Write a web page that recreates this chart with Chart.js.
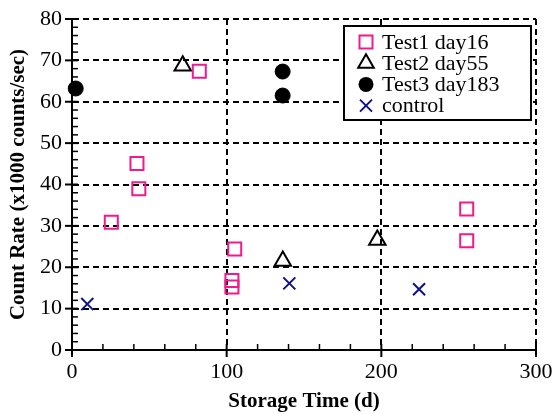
<!DOCTYPE html>
<html><head><meta charset="utf-8">
<script src="https://cdn.jsdelivr.net/npm/chart.js@4"></script>
<style>html,body{margin:0;padding:0;background:#fff;}</style>
</head><body>
<canvas id="c" width="553" height="414"></canvas>
<script>
// ---- data ----
const test1X = [25.4, 42.0, 43.2, 82.3, 105.2, 103.4, 103.4, 255.2, 255.2];
const test1Y = [30.9, 45.1, 39.0, 67.4, 24.4, 16.8, 15.2, 34.1, 26.4];
const test2X = [71.6, 136.3, 197.4];
const test2Y = [68.7, 21.5, 26.6];
const test3X = [2.4, 136.2, 136.2];
const test3Y = [63.2, 67.3, 61.5];
const controlX = [9.9, 140.5, 224.4];
const controlY = [11.1, 16.1, 14.7];
const seriesLabels = ['Test1 day16', 'Test2 day55', 'Test3 day183', 'control'];
const xTicks = [0, 100, 200, 300];
const yTicks = [0, 10, 20, 30, 40, 50, 60, 70, 80];
const xTitle = 'Storage Time (d)';
const yTitle = 'Count Rate (x1000 counts/sec)';

const FONT = "'Liberation Serif', 'Times New Roman', Times, serif";
const PINK = '#f01a8c';
const NAVY = '#10108c';

function pts(xs, ys) { return xs.map((x, i) => ({x: x, y: ys[i]})); }

const minorTicks = {
  id: 'minorTicks',
  beforeDatasetsDraw(chart) {
    const ctx = chart.ctx, xs = chart.scales.x, ys = chart.scales.y;
    const ca = chart.chartArea;
    ctx.save();
    ctx.strokeStyle = '#000';
    for (let v = xs.min; v <= xs.max + 1e-9; v += 20) {
      const px = xs.getPixelForValue(v);
      const major = xTicks.includes(v);
      ctx.lineWidth = major ? 2 : 1.5;
      ctx.beginPath();
      ctx.moveTo(px, ca.bottom + (major ? 7 : 0));
      ctx.lineTo(px, ca.bottom - 6);
      ctx.stroke();
    }
    for (let v = ys.min; v <= ys.max + 1e-9; v += 2) {
      const py = ys.getPixelForValue(v);
      const major = yTicks.includes(v);
      ctx.lineWidth = major ? 2 : 1.5;
      ctx.beginPath();
      ctx.moveTo(ca.left - (major ? 7 : 0), py);
      ctx.lineTo(ca.left + 6, py);
      ctx.stroke();
    }
    ctx.restore();
  }
};

function drawMarker(ctx, kind, x, y) {
  ctx.save();
  ctx.lineWidth = 2;
  if (kind === 0) {
    ctx.strokeStyle = PINK;
    ctx.strokeRect(x - 6.5, y - 6.5, 13, 13);
  } else if (kind === 1) {
    ctx.strokeStyle = '#000';
    const r = 9;
    ctx.beginPath();
    ctx.moveTo(x, y - r);
    ctx.lineTo(x + r * 0.866, y + r * 0.5);
    ctx.lineTo(x - r * 0.866, y + r * 0.5);
    ctx.closePath();
    ctx.stroke();
  } else if (kind === 2) {
    ctx.fillStyle = '#000';
    ctx.beginPath();
    ctx.arc(x, y, 7.5, 0, Math.PI * 2);
    ctx.fill();
  } else {
    ctx.strokeStyle = NAVY;
    ctx.beginPath();
    ctx.moveTo(x - 6, y - 6); ctx.lineTo(x + 6, y + 6);
    ctx.moveTo(x + 6, y - 6); ctx.lineTo(x - 6, y + 6);
    ctx.stroke();
  }
  ctx.restore();
}

const boxLegend = {
  id: 'boxLegend',
  afterDraw(chart) {
    const ctx = chart.ctx, ca = chart.chartArea;
    const left = ca.right - 192, top = ca.top + 7, w = 187, h = 94;
    ctx.save();
    ctx.fillStyle = '#fff';
    ctx.fillRect(left, top, w, h);
    ctx.strokeStyle = '#000';
    ctx.lineWidth = 2;
    ctx.strokeRect(left, top, w, h);
    ctx.font = '22px ' + FONT;
    ctx.fillStyle = '#000';
    ctx.textBaseline = 'middle';
    ctx.textAlign = 'left';
    chart.data.datasets.forEach((ds, i) => {
      const yy = top + 16 + i * 21.2;
      drawMarker(ctx, i, left + 22, yy);
      ctx.fillText(ds.label, left + 38, yy + 1);
    });
    ctx.restore();
  }
};

new Chart(document.getElementById('c'), {
  type: 'scatter',
  data: {
    datasets: [
      {label: seriesLabels[0], data: pts(test1X, test1Y), pointStyle: 'rect', pointRadius: 9.2,
       pointBorderColor: PINK, pointBackgroundColor: 'rgba(0,0,0,0)', pointBorderWidth: 2, clip: false},
      {label: seriesLabels[1], data: pts(test2X, test2Y), pointStyle: 'triangle', pointRadius: 9.5,
       pointBorderColor: '#000', pointBackgroundColor: 'rgba(0,0,0,0)', pointBorderWidth: 2, clip: false},
      {label: seriesLabels[2], data: pts(test3X, test3Y), pointStyle: 'circle', pointRadius: 7.5,
       pointBorderColor: '#000', pointBackgroundColor: '#000', pointBorderWidth: 1, clip: false},
      {label: seriesLabels[3], data: pts(controlX, controlY), pointStyle: 'crossRot', pointRadius: 8.5,
       pointBorderColor: NAVY, pointBackgroundColor: NAVY, pointBorderWidth: 2, clip: false}
    ]
  },
  options: {
    responsive: false,
    animation: false,
    events: [],
    layout: {padding: {left: 0, right: 17, top: 19, bottom: 0}},
    plugins: {legend: {display: false}, tooltip: {enabled: false}},
    scales: {
      x: {
        type: 'linear', min: 0, max: 300,
        afterBuildTicks: s => { s.ticks = xTicks.map(v => ({value: v})); },
        ticks: {color: '#000', padding: 9, maxRotation: 0, font: {family: FONT, size: 22}},
        grid: {color: '#000', lineWidth: 2, drawTicks: false},
        border: {display: true, color: '#000', width: 2, dash: [6, 4]},
        title: {display: true, text: xTitle, color: '#000', font: {family: FONT, size: 21, weight: 'bold'}, padding: {top: 0, bottom: 0}},
        afterFit: s => { s.height = 64; s.paddingLeft = 0; s.paddingRight = 0; }
      },
      y: {
        type: 'linear', min: 0, max: 80,
        afterBuildTicks: s => { s.ticks = yTicks.map(v => ({value: v})); },
        ticks: {color: '#000', padding: 10, font: {family: FONT, size: 22}},
        grid: {color: '#000', lineWidth: 2, drawTicks: false},
        border: {display: true, color: '#000', width: 2, dash: [6, 4]},
        title: {display: true, text: yTitle, color: '#000', font: {family: FONT, size: 21, weight: 'bold'}, padding: {top: 6, bottom: 0}},
        afterFit: s => { s.width = 72; s.paddingTop = 0; s.paddingBottom = 0; }
      }
    }
  },
  plugins: [minorTicks, boxLegend]
});
</script>
</body></html>
